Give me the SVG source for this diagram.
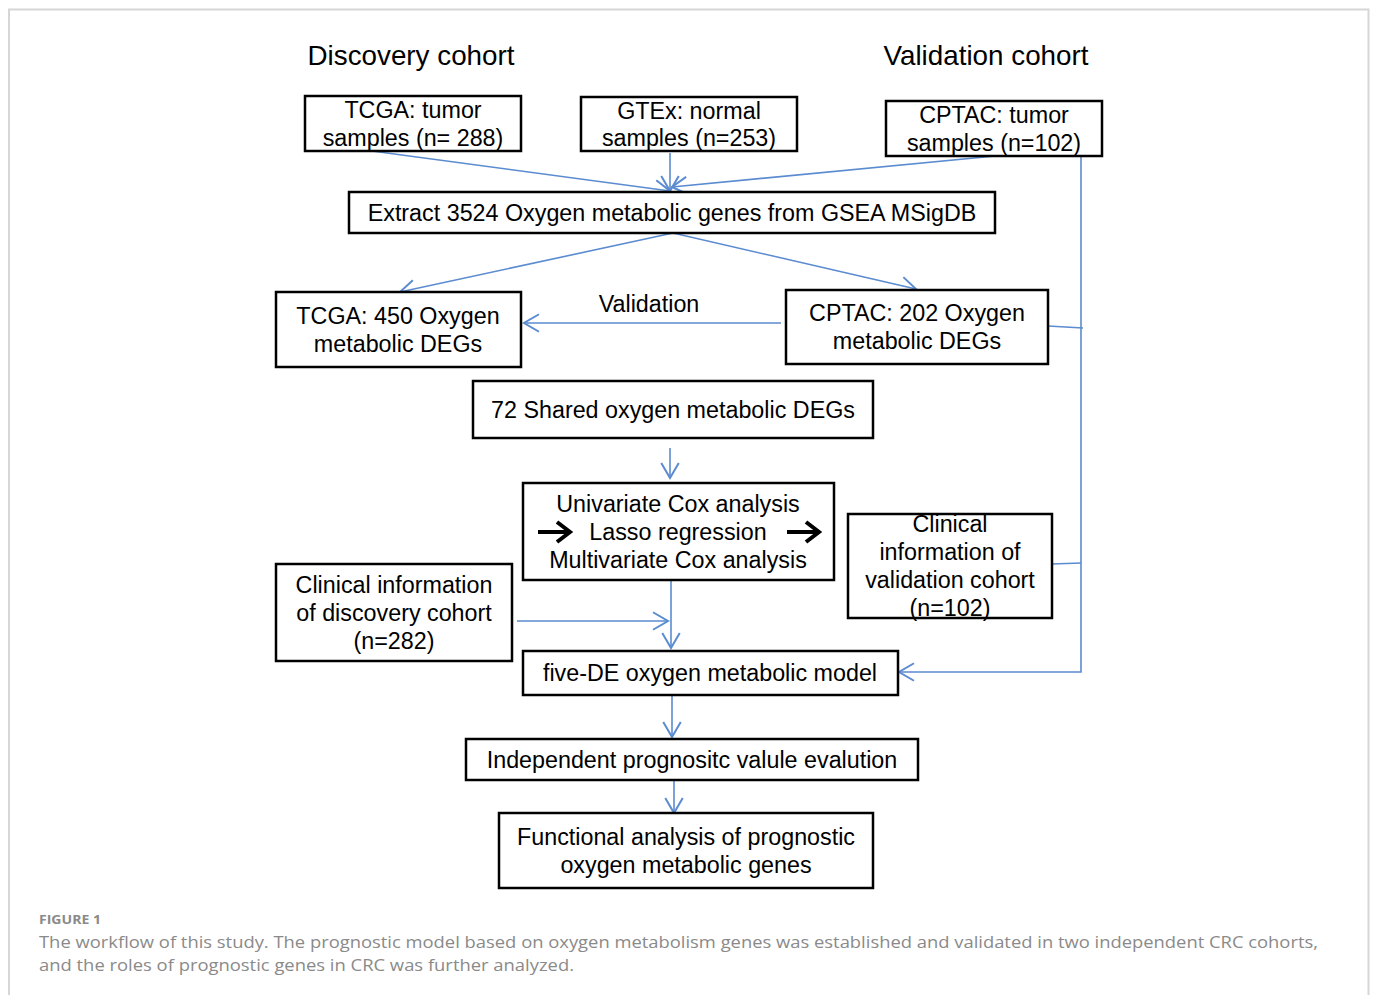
<svg xmlns="http://www.w3.org/2000/svg" width="1373" height="995" viewBox="0 0 1373 995">
<style>
.box{fill:#fff;stroke:#000;stroke-width:2.5}
.t{font-family:"Liberation Sans",Arial,sans-serif;font-size:23.3px;fill:#000;text-anchor:middle;dominant-baseline:central}
.h{font-family:"Liberation Sans",Arial,sans-serif;font-size:27.8px;fill:#000;text-anchor:middle;dominant-baseline:central}
.c{fill:none;stroke:#5b8bd0;stroke-width:1.6}
.cap{font-family:"Open Sans","Noto Sans",sans-serif;fill:#8a8a8a}
</style>
<defs>
<marker id="ah" markerUnits="userSpaceOnUse" markerWidth="20" markerHeight="20" viewBox="-1 -1 16 16" refX="13" refY="7" orient="auto">
<path d="M1,0 L13,7 L1,14" fill="none" stroke="#5b8bd0" stroke-width="1.6"/>
</marker>
</defs>
<rect x="0" y="0" width="1373" height="995" fill="#fff"/>
<path d="M9,1000 V9.5 H1368.5 V1000" fill="none" stroke="#d6d6d6" stroke-width="2"/>

<text class="h" x="411" y="55">Discovery cohort</text>
<text class="h" x="986" y="55">Validation cohort</text>

<g id="connectors">
<path class="c" d="M372,151 L670,191" marker-end="url(#ah)"/>
<path class="c" d="M670,153 L670,191" marker-end="url(#ah)"/>
<path class="c" d="M995,156 L672,187" marker-end="url(#ah)"/>
<path class="c" d="M673,233 L400,292" marker-end="url(#ah)"/>
<path class="c" d="M673,233 L916,289" marker-end="url(#ah)"/>
<path class="c" d="M781,323 L524,323" marker-end="url(#ah)"/>
<path class="c" d="M670,448 L670,478" marker-end="url(#ah)"/>
<path class="c" d="M671,580 L671,648" marker-end="url(#ah)"/>
<path class="c" d="M517,621 L668,621" marker-end="url(#ah)"/>
<path class="c" d="M672,695 L672,737" marker-end="url(#ah)"/>
<path class="c" d="M674,780 L674,813" marker-end="url(#ah)"/>
<path class="c" d="M1081,152 V672 H899" marker-end="url(#ah)"/>
<path class="c" d="M1048,326 L1083,328"/>
<path class="c" d="M1052,564 L1081,563"/>
<text class="t" x="649" y="304">Validation</text>
</g>

<g id="tcga-tumor">
<rect class="box" x="305" y="96" width="216" height="55"/>
<text class="t" x="413" y="110">TCGA: tumor</text>
<text class="t" x="413" y="138">samples (n= 288)</text>
</g>
<g id="gtex-normal">
<rect class="box" x="581" y="97" width="216" height="54"/>
<text class="t" x="689" y="111">GTEx: normal</text>
<text class="t" x="689" y="138">samples (n=253)</text>
</g>
<g id="cptac-tumor">
<rect class="box" x="886" y="101" width="216" height="55"/>
<text class="t" x="994" y="115">CPTAC: tumor</text>
<text class="t" x="994" y="143">samples (n=102)</text>
</g>
<g id="extract">
<rect class="box" x="349" y="192" width="646" height="41"/>
<text class="t" x="672" y="213">Extract 3524 Oxygen metabolic genes from GSEA MSigDB</text>
</g>
<g id="tcga-450">
<rect class="box" x="276" y="292" width="245" height="75"/>
<text class="t" x="398" y="316">TCGA: 450 Oxygen</text>
<text class="t" x="398" y="344">metabolic DEGs</text>
</g>
<g id="cptac-202">
<rect class="box" x="786" y="290" width="262" height="74"/>
<text class="t" x="917" y="313">CPTAC: 202 Oxygen</text>
<text class="t" x="917" y="341">metabolic DEGs</text>
</g>
<g id="shared-72">
<rect class="box" x="473" y="381" width="400" height="57"/>
<text class="t" x="673" y="410">72 Shared oxygen metabolic DEGs</text>
</g>
<g id="cox">
<rect class="box" x="523" y="483" width="311" height="97"/>
<text class="t" x="678" y="504">Univariate Cox analysis</text>
<text class="t" x="678" y="532">Lasso regression</text>
<text class="t" x="678" y="560">Multivariate Cox analysis</text>
<path d="M538,532 H569 M557,522 L570,532 L557,542" fill="none" stroke="#000" stroke-width="4"/>
<path d="M787,532 H818 M806,522 L819,532 L806,542" fill="none" stroke="#000" stroke-width="4"/>
</g>
<g id="clinical-validation">
<rect class="box" x="848" y="514" width="204" height="104"/>
<text class="t" x="950" y="524">Clinical</text>
<text class="t" x="950" y="552">information of</text>
<text class="t" x="950" y="580">validation cohort</text>
<text class="t" x="950" y="608">(n=102)</text>
</g>
<g id="clinical-discovery">
<rect class="box" x="276" y="564" width="236" height="97"/>
<text class="t" x="394" y="585">Clinical information</text>
<text class="t" x="394" y="613">of discovery cohort</text>
<text class="t" x="394" y="641">(n=282)</text>
</g>
<g id="model">
<rect class="box" x="523" y="651" width="375" height="44"/>
<text class="t" x="710" y="673">five-DE oxygen metabolic model</text>
</g>
<g id="independent">
<rect class="box" x="466" y="739" width="452" height="41"/>
<text class="t" x="692" y="760">Independent prognositc valule evalution</text>
</g>
<g id="functional">
<rect class="box" x="499" y="813" width="374" height="75"/>
<text class="t" x="686" y="837">Functional analysis of prognostic</text>
<text class="t" x="686" y="865">oxygen metabolic genes</text>
</g>

<text class="cap" x="39" y="924" font-size="13" font-weight="bold" textLength="62" lengthAdjust="spacingAndGlyphs">FIGURE 1</text>
<text class="cap" x="39" y="948" font-size="17" textLength="1279" lengthAdjust="spacingAndGlyphs">The workflow of this study. The prognostic model based on oxygen metabolism genes was established and validated in two independent CRC cohorts,</text>
<text class="cap" x="39" y="971" font-size="17" textLength="535" lengthAdjust="spacingAndGlyphs">and the roles of prognostic genes in CRC was further analyzed.</text>
</svg>
